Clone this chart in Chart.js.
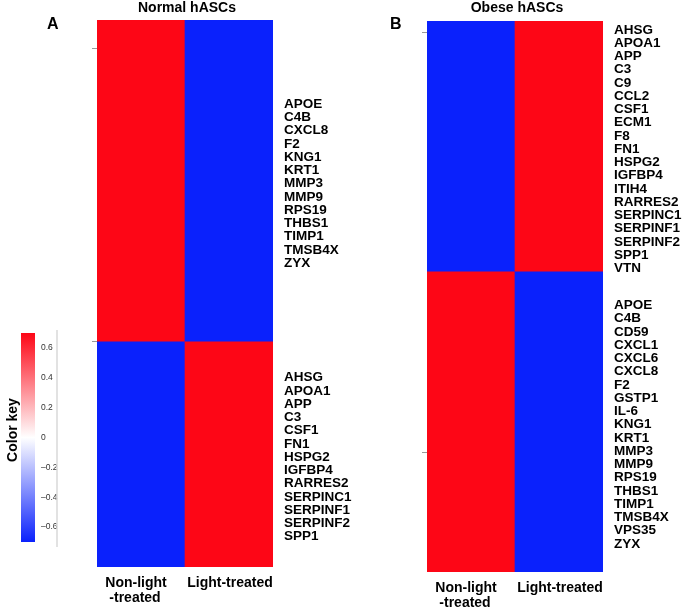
<!DOCTYPE html>
<html>
<head>
<meta charset="utf-8">
<script src="https://cdn.jsdelivr.net/npm/chart.js@4.4.1/dist/chart.umd.min.js"></script>
<style>
  body { margin: 0; background: #fff; }
  #wrap { position: relative; width: 685px; height: 608px; overflow: hidden; }
  canvas { position: absolute; left: 0; }
</style>
</head>
<body>
<div id="wrap">
  <canvas id="panelA" width="685" height="608" style="top:0;width:685px;height:608px"></canvas>
  <canvas id="panelB" width="685" height="608" style="top:0;width:685px;height:608px"></canvas>
  <canvas id="colorKey" width="80" height="240" style="top:320px;width:80px;height:240px"></canvas>
</div>
<script>
// columns of both heatmaps
var columns = [['Non-light', '-treated'], ['Light-treated']];

// Normal hASCs: two gene clusters, relative block heights and cell values
var normalBlocks = [58.7, 41.3];
var normalValues = [[0.7, -0.7], [-0.7, 0.7]];
var normalTicks = [5.1, 58.7];
var normalGenesTop = ['APOE', 'C4B', 'CXCL8', 'F2', 'KNG1', 'KRT1', 'MMP3', 'MMP9', 'RPS19', 'THBS1', 'TIMP1', 'TMSB4X', 'ZYX'];
var normalGenesBottom = ['AHSG', 'APOA1', 'APP', 'C3', 'CSF1', 'FN1', 'HSPG2', 'IGFBP4', 'RARRES2', 'SERPINC1', 'SERPINF1', 'SERPINF2', 'SPP1'];

// Obese hASCs
var obeseBlocks = [45.4, 54.6];
var obeseValues = [[-0.7, 0.7], [0.7, -0.7]];
var obeseTicks = [2, 78.2];
var obeseGenesTop = ['AHSG', 'APOA1', 'APP', 'C3', 'C9', 'CCL2', 'CSF1', 'ECM1', 'F8', 'FN1', 'HSPG2', 'IGFBP4', 'ITIH4', 'RARRES2', 'SERPINC1', 'SERPINF1', 'SERPINF2', 'SPP1', 'VTN'];
var obeseGenesBottom = ['APOE', 'C4B', 'CD59', 'CXCL1', 'CXCL6', 'CXCL8', 'F2', 'GSTP1', 'IL-6', 'KNG1', 'KRT1', 'MMP3', 'MMP9', 'RPS19', 'THBS1', 'TIMP1', 'TMSB4X', 'VPS35', 'ZYX'];

// color key
var keyRange = [-0.7, 0.7];
var keyTicks = [0.6, 0.4, 0.2, 0, -0.2, -0.4, -0.6];

var RED = [253, 6, 22], BLUE = [10, 33, 252];

function colorFor(v) {
  var t = Math.max(-1, Math.min(1, v / keyRange[1]));
  var end = t > 0 ? RED : BLUE;
  var a = Math.abs(t);
  var c = end.map(function (e) { return Math.round(255 + (e - 255) * a); });
  return 'rgb(' + c.join(',') + ')';
}

var FONT = '"Liberation Sans", Arial, sans-serif';

function makePanel(id, title, letter, letterX, blocks, values, ticks, geneGroups, pad) {
  var total = blocks[0] + blocks[1];
  var datasets = [];
  var start = 0;
  blocks.forEach(function (b, i) {
    datasets.push({
      data: [[start, start + b], [start, start + b]],
      backgroundColor: values[i].map(colorFor),
      borderWidth: 0,
      grouped: false,
      barPercentage: 1,
      categoryPercentage: 1
    });
    start += b;
  });

  var labelsPlugin = {
    id: 'labels' + id,
    afterDraw: function (chart) {
      var ctx = chart.ctx, area = chart.chartArea;
      var x = chart.scales.x, y = chart.scales.y;
      ctx.save();
      ctx.fillStyle = '#000';
      // title
      ctx.font = 'bold 14px ' + FONT;
      ctx.textAlign = 'center';
      ctx.textBaseline = 'middle';
      ctx.fillText(title, (area.left + area.right) / 2 + 2, 8);
      // panel letter
      ctx.font = 'bold 16px ' + FONT;
      ctx.textAlign = 'left';
      ctx.fillText(letter, letterX, 25);
      // gene labels, centred on their block
      ctx.font = 'bold 13.5px ' + FONT;
      ctx.textBaseline = 'middle';
      var s = 0;
      geneGroups.forEach(function (genes, i) {
        var mid = y.getPixelForValue(s + blocks[i] / 2);
        s += blocks[i];
        var step = 13.25;
        var y0 = mid - (genes.length - 1) / 2 * step + 3;
        genes.forEach(function (g, k) {
          ctx.fillText(g, area.right + 11, y0 + k * step);
        });
      });
      // column labels
      ctx.font = 'bold 14px ' + FONT;
      ctx.textAlign = 'center';
      columns.forEach(function (lines, i) {
        var cx = x.getPixelForValue(i) + (i === 0 ? -5 : 1);
        lines.forEach(function (ln, k) {
          ctx.fillText(ln, cx - (k > 0 ? 1 : 0), area.bottom + 16 + k * 15);
        });
      });
      // small axis marks on the left edge
      ctx.strokeStyle = '#999';
      ctx.lineWidth = 1;
      ticks.forEach(function (t) {
        var py = Math.round(y.getPixelForValue(t)) + 0.5;
        ctx.beginPath();
        ctx.moveTo(area.left - 5, py);
        ctx.lineTo(area.left, py);
        ctx.stroke();
      });
      ctx.restore();
    }
  };

  return new Chart(document.getElementById(id), {
    type: 'bar',
    data: { labels: columns, datasets: datasets },
    options: {
      responsive: false,
      animation: false,
      devicePixelRatio: 1,
      layout: { padding: pad },
      plugins: { legend: { display: false }, tooltip: { enabled: false } },
      scales: {
        x: { display: false },
        y: { display: false, reverse: true, min: 0, max: total }
      }
    },
    plugins: [labelsPlugin]
  });
}

makePanel('panelA', 'Normal hASCs', 'A', 47, normalBlocks, normalValues, normalTicks,
  [normalGenesTop, normalGenesBottom], { left: 97, right: 412, top: 20, bottom: 41 });
makePanel('panelB', 'Obese hASCs', 'B', 390, obeseBlocks, obeseValues, obeseTicks,
  [obeseGenesTop, obeseGenesBottom], { left: 427, right: 82, top: 21, bottom: 36 });

// color key
var keyPlugin = {
  id: 'keyText',
  afterDraw: function (chart) {
    var ctx = chart.ctx, y = chart.scales.y;
    ctx.save();
    ctx.fillStyle = '#333';
    ctx.font = '8.5px ' + FONT;
    ctx.textAlign = 'left';
    ctx.textBaseline = 'middle';
    keyTicks.forEach(function (t) {
      ctx.fillText(t === 0 ? '0' : t.toFixed(1).replace('-', '\u2013'), 41, y.getPixelForValue(t));
    });
    ctx.strokeStyle = '#d9d9d9';
    ctx.lineWidth = 1.5;
    ctx.beginPath();
    ctx.moveTo(57, 10);
    ctx.lineTo(57, 227);
    ctx.stroke();
    ctx.fillStyle = '#000';
    ctx.font = 'bold 14px ' + FONT;
    ctx.translate(13, 110);
    ctx.rotate(-Math.PI / 2);
    ctx.textAlign = 'center';
    ctx.fillText('Color key', 0, 0);
    ctx.restore();
  }
};

new Chart(document.getElementById('colorKey'), {
  type: 'bar',
  data: {
    labels: ['key'],
    datasets: [{
      data: [keyRange],
      borderWidth: 0,
      barPercentage: 1,
      categoryPercentage: 1,
      backgroundColor: function (c) {
        var chart = c.chart;
        if (!chart.chartArea) return colorFor(0);
        var y = chart.scales.y;
        var g = chart.ctx.createLinearGradient(0, y.getPixelForValue(keyRange[0]), 0, y.getPixelForValue(keyRange[1]));
        g.addColorStop(0, colorFor(keyRange[0]));
        g.addColorStop(0.5, colorFor(0));
        g.addColorStop(1, colorFor(keyRange[1]));
        return g;
      }
    }]
  },
  options: {
    responsive: false,
    animation: false,
    devicePixelRatio: 1,
    layout: { padding: { left: 21, right: 45, top: 13, bottom: 18 } },
    plugins: { legend: { display: false }, tooltip: { enabled: false } },
    scales: {
      x: { display: false },
      y: { display: false, min: keyRange[0], max: keyRange[1] }
    }
  },
  plugins: [keyPlugin]
});
</script>
</body>
</html>
